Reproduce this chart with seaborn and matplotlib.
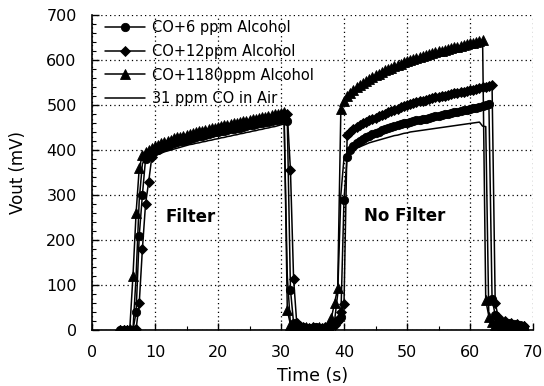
import numpy as np
import pandas as pd
import matplotlib
matplotlib.use("Agg")
import matplotlib.pyplot as plt
from matplotlib.ticker import MultipleLocator
import seaborn as sns

# Sensor output logged every 0.5 s, from 4.5 s to 68.5 s
time_s = np.arange(4.5, 68.51, 0.5)

co_6ppm_alcohol = [
    0, 0, 0, 0, 0, 40, 210, 300, 380, 392,
    395, 398, 401, 404, 407, 410, 413, 415, 417, 419,
    421, 423, 425, 427, 429, 431, 432, 434, 436, 437,
    439, 440, 442, 443, 445, 446, 447, 449, 450, 452,
    453, 455, 456, 457, 459, 460, 462, 463, 464, 466,
    467, 469, 472, 465, 90, 15, 8, 5, 6, 4,
    5, 3, 6, 4, 5, 3, 6, 10, 15, 22,
    30, 290, 385, 400, 408, 415, 420, 424, 428, 432,
    435, 438, 441, 444, 447, 449, 451, 453, 455, 457,
    459, 461, 463, 464, 466, 467, 469, 470, 472, 473,
    475, 476, 478, 479, 481, 482, 484, 485, 487, 488,
    490, 491, 493, 494, 496, 498, 500, 502, 70, 33,
    22, 18, 12, 16, 9, 14, 7, 11, 6,
]

co_12ppm_alcohol = [
    0, 0, 0, 0, 0, 2, 60, 180, 280, 330,
    385, 398, 403, 407, 410, 413, 416, 419, 421, 424,
    426, 428, 430, 432, 434, 436, 438, 440, 441, 443,
    445, 447, 448, 450, 451, 453, 454, 456, 457, 459,
    460, 462, 463, 465, 466, 468, 469, 471, 472, 474,
    475, 477, 479, 481, 355, 113, 15, 8, 6, 5,
    4, 6, 3, 5, 4, 6, 4, 7, 12, 20,
    40, 58, 433, 440, 446, 451, 455, 459, 463, 466,
    469, 472, 475, 478, 481, 484, 487, 490, 492, 495,
    497, 500, 502, 504, 506, 508, 510, 512, 514, 515,
    517, 518, 520, 521, 523, 524, 526, 527, 529, 530,
    531, 533, 534, 536, 537, 539, 540, 542, 545, 60,
    28, 14, 20, 10, 16, 8, 13, 6, 10,
]

co_1180ppm_alcohol = [
    0, 0, 0, 3, 120, 260, 360, 388, 395, 400,
    405, 409, 412, 415, 418, 421, 423, 426, 428, 430,
    432, 434, 436, 438, 440, 442, 443, 445, 447, 448,
    450, 452, 453, 455, 456, 458, 459, 461, 462, 464,
    465, 467, 468, 470, 471, 473, 474, 476, 477, 479,
    480, 482, 484, 44, 12, 8, 6, 5, 4, 6,
    3, 5, 4, 6, 3, 5, 8, 27, 60, 93,
    491, 510, 520, 527, 533, 539, 544, 549, 553, 558,
    562, 566, 570, 573, 577, 580, 583, 586, 589, 592,
    595, 597, 600, 602, 604, 607, 609, 611, 613, 615,
    617, 619, 621, 623, 625, 627, 628, 630, 632, 633,
    635, 637, 638, 640, 642, 644, 66, 30, 18, 12,
    15, 9, 11, 7, 12, 6, 9, 5, 8,
]

co_31ppm_air = [
    0, 0, 0, 0, 0, 120, 290, 370, 378, 382,
    385, 388, 391, 393, 396, 398, 400, 402, 404, 406,
    408, 410, 412, 413, 415, 416, 418, 419, 421, 422,
    424, 425, 427, 428, 430, 431, 433, 434, 436, 437,
    439, 440, 442, 443, 445, 446, 448, 449, 451, 452,
    454, 456, 458, 120, 12, 6, 4, 5, 3, 4,
    3, 4, 2, 4, 3, 4, 5, 10, 20, 80,
    300, 382, 390, 395, 400, 404, 407, 410, 413, 416,
    418, 420, 422, 424, 426, 428, 430, 432, 433, 435,
    437, 438, 440, 441, 442, 443, 444, 445, 446, 447,
    448, 449, 450, 451, 452, 453, 454, 455, 456, 457,
    458, 459, 460, 461, 462, 453, 452, 20, 12, 10,
    8, 10, 6, 9, 5, 7, 4, 6, 5,
]

series_labels = ["CO+6 ppm Alcohol", "CO+12ppm Alcohol",
                 "CO+1180ppm Alcohol", "31 ppm CO in Air"]
series_values = [co_6ppm_alcohol, co_12ppm_alcohol,
                 co_1180ppm_alcohol, co_31ppm_air]
series_markers = ["o", "D", "^", None]
series_msize = [6.0, 5.0, 7.0, 0]

x_ticks = [0, 10, 20, 30, 40, 50, 60, 70]
y_ticks = [0, 100, 200, 300, 400, 500, 600, 700]

sns.set_style("ticks")
plt.rcParams["font.family"] = ["DejaVu Sans"]
plt.rcParams["text.color"] = "black"
plt.rcParams["axes.labelcolor"] = "black"

fig = plt.figure(figsize=(5.44, 3.86), dpi=100)
ax = fig.add_axes([92 / 544, 1 - 330 / 386, 441 / 544, 315 / 386])

for label, values, marker, ms in zip(series_labels, series_values,
                                     series_markers, series_msize):
    df = pd.DataFrame({"Time (s)": time_s, "Vout (mV)": values})
    kw = dict(marker=marker, markersize=ms, markeredgewidth=0.6,
              markeredgecolor="black", markerfacecolor="black") if marker else {}
    sns.lineplot(data=df, x="Time (s)", y="Vout (mV)", ax=ax, color="black",
                 linewidth=1.1, label=label, sort=False, estimator=None,
                 **kw)

ax.set_xlim(0, 70)
ax.set_ylim(0, 700)
ax.set_xticks(x_ticks)
ax.set_yticks(y_ticks)
ax.xaxis.set_minor_locator(MultipleLocator(5))
ax.yaxis.set_minor_locator(MultipleLocator(20))
ax.tick_params(which="major", direction="in", length=5, width=1,
               labelsize=11.5, pad=11, colors="black")
ax.tick_params(which="minor", direction="in", length=3, width=0.8,
               colors="black")
ax.grid(True, which="major", color="black", linestyle=(0, (1, 2.5)),
        linewidth=0.9)

for side in ("top", "right"):
    ax.spines[side].set_visible(False)
for side in ("left", "bottom"):
    ax.spines[side].set_color("black")
    ax.spines[side].set_linewidth(1.2)

ax.set_xlabel("Time (s)", fontsize=12.5, labelpad=5)
ax.set_ylabel("Vout (mV)", fontsize=12, labelpad=14)

ax.text(11.6, 251, "Filter", fontsize=12, fontweight="bold",
        va="center", ha="left")
ax.text(43.2, 253, "No Filter", fontsize=12, fontweight="bold",
        va="center", ha="left")

ax.legend(loc="upper left", bbox_to_anchor=(0.0295, 0.984), frameon=False,
          fontsize=10.5, borderaxespad=0, borderpad=0, handlelength=2.75,
          handletextpad=0.5, labelspacing=0.6, numpoints=1)

fig.savefig("out.png", dpi=100)
